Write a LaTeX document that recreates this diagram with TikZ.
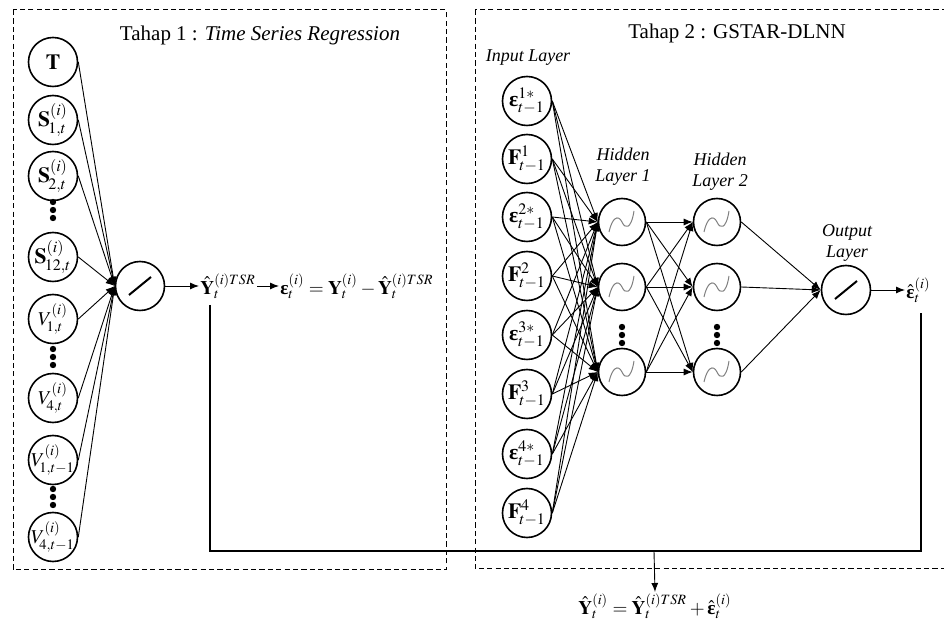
\documentclass[tikz,border=0pt]{standalone}
\usepackage{mathptmx}
\usepackage[no-math]{fontspec}
\setmainfont{Liberation Serif}
\usetikzlibrary{arrows.meta}
\newcommand{\beps}{\mbox{\normalfont\bfseries ε}}
\newcommand{\zw}[1]{\makebox[0pt][c]{#1}}
\begin{document}
\begin{tikzpicture}[x=0.5pt,y=-0.5pt,
  neuron/.style={circle,draw,line width=0.8pt,minimum size=24.5pt,inner sep=0pt,font=\fontsize{10.8}{13}\selectfont},
  vnode/.style={neuron,font=\fontsize{9.8}{12}\selectfont},
  hid/.style={neuron,minimum size=23.5pt,path picture={\draw[gray,line width=0.5pt,shift={(path picture bounding box.center)}]
      (-13,10) .. controls (-10,-4) and (-4,-8) .. (0,0) .. controls (3,7) and (9,8) .. (12,-11);}},
  lin/.style={neuron,path picture={\draw[line width=1pt,shift={(path picture bounding box.center)}] (-11,9) -- (11,-9);}},
  box/.style={draw,line width=0.5pt,dash pattern=on 2.6pt off 1.6pt},
  con/.style={line width=0.45pt,-{Latex[length=4.5pt,width=3.5pt]}},
  wire/.style={line width=0.6pt},
  lbl/.style={font=\fontsize{10.5}{12}\selectfont,inner sep=0.5pt},
  eqn/.style={font=\fontsize{9.6}{11}\selectfont,inner sep=0.5pt},
  lay/.style={font=\fontsize{9}{10.5}\selectfont\itshape,align=center,inner sep=0pt}]
\useasboundingbox (0,0) rectangle (944,625);
% boxes
\draw[box] (13,10) rectangle (446,570);
\draw[box] (475,10) rectangle (950,569);
\node[lbl] (t1) at (260,35) {Tahap 1 : \textit{Time Series Regression}};
\node[lbl] (t2) at (737,33) {Tahap 2 : GSTAR-DLNN};
% left inputs
\node[neuron] (T) at (53,62) {\zw{$\mathbf{T}$}};
\node[neuron] (S1) at (53,120) {\zw{$\mathbf{S}_{\!1,t}^{(i)}$}};
\node[neuron] (S2) at (53,176) {\zw{$\mathbf{S}_{\!2,t}^{(i)}$}};
\node[neuron] (S12) at (53,257) {\zw{$\mathbf{S}_{\!12,t}^{(i)}$}};
\node[vnode] (V1) at (53,319) {\zw{$V_{\!1,t}^{(i)}$}};
\node[vnode] (V4) at (53,398) {\zw{$V_{\!4,t}^{(i)}$}};
\node[vnode] (V1l) at (53,460) {\zw{$V_{\!1,t-1}^{(i)}$}};
\node[vnode] (V4l) at (53,537) {\zw{$V_{\!4,t-1}^{(i)}$}};
\foreach \y in {210,357,497} {
  \fill (53,\y-8) circle (1.6pt) (53,\y) circle (1.6pt) (53,\y+8) circle (1.6pt);
}
\node[lin] (L) at (140,286) {};
\foreach \n in {T,S1,S2,S12,V1,V4,V1l,V4l} \draw[con] (\n.east) -- (L.west);
\node[eqn,anchor=west] (yh) at (199,286) {$\hat{\mathbf{Y}}_t^{(i)TSR}$};
\node[eqn,anchor=west] (eq1) at (279,286) {$\beps_t^{(i)}=\mathbf{Y}_t^{(i)}-\hat{\mathbf{Y}}_t^{(i)TSR}$};
\draw[con] (L.east) -- (yh.west);
\draw[con] (yh.east) -- (eq1.west);
% right inputs
\node[lay,anchor=center] (il) at (528,58) {Input Layer};
\node[neuron] (e1) at (527,101) {\zw{$\beps_{t-1}^{1*}$}};
\node[neuron] (f1) at (527,159) {\zw{$\mathbf{F}_{\!t-1}^{1}$}};
\node[neuron] (e2) at (527,217) {\zw{$\beps_{t-1}^{2*}$}};
\node[neuron] (f2) at (527,276) {\zw{$\mathbf{F}_{\!t-1}^{2}$}};
\node[neuron] (e3) at (527,335) {\zw{$\beps_{t-1}^{3*}$}};
\node[neuron] (f3) at (527,394) {\zw{$\mathbf{F}_{\!t-1}^{3}$}};
\node[neuron] (e4) at (527,454) {\zw{$\beps_{t-1}^{4*}$}};
\node[neuron] (f4) at (527,513) {\zw{$\mathbf{F}_{\!t-1}^{4}$}};
% hidden layers
\node[lay] (hl1) at (623,167) {Hidden\\ Layer 1};
\node[lay] (hl2) at (720,172) {Hidden\\ Layer 2};
\node[hid] (a1) at (622,222) {};
\node[hid] (a2) at (622,287) {};
\node[hid] (a3) at (622,372) {};
\node[hid] (b1) at (717,222) {};
\node[hid] (b2) at (717,287) {};
\node[hid] (b3) at (717,372) {};
\foreach \x in {622,717} {
  \fill (\x,327) circle (1.6pt) (\x,335) circle (1.6pt) (\x,343) circle (1.6pt);
}
\node[lay] (ol) at (847,243) {Output\\ Layer};
\node[lin] (O) at (846,290) {};
\node[eqn,anchor=west] (eh) at (905,290) {$\hat{\beps}_t^{(i)}$};
\foreach \i in {e1,f1,e2,f2,e3,f3,e4,f4}
  \foreach \h in {a1,a2,a3} \draw[con] (\i.east) -- (\h.west);
\foreach \h in {a1,a2,a3}
  \foreach \g in {b1,b2,b3} \draw[con] (\h.east) -- (\g.west);
\foreach \g in {b1,b2,b3} \draw[con] (\g.east) -- (O.west);
\draw[con] (O.east) -- (eh.west);
% combination
\coordinate (ytop) at (210,305);
\coordinate (bl) at (210,551);
\coordinate (br) at (921,551);
\coordinate (etop) at (921,313);
\coordinate (mid) at (654,551);
\draw[wire] (ytop) -- (bl) -- (br) -- (etop);
\node[eqn,anchor=north] (fin) at (655,592) {$\hat{\mathbf{Y}}_t^{(i)}=\hat{\mathbf{Y}}_t^{(i)TSR}+\hat{\beps}_t^{(i)}$};
\draw[con] (mid) -- (fin.north);
\end{tikzpicture}
\end{document}
